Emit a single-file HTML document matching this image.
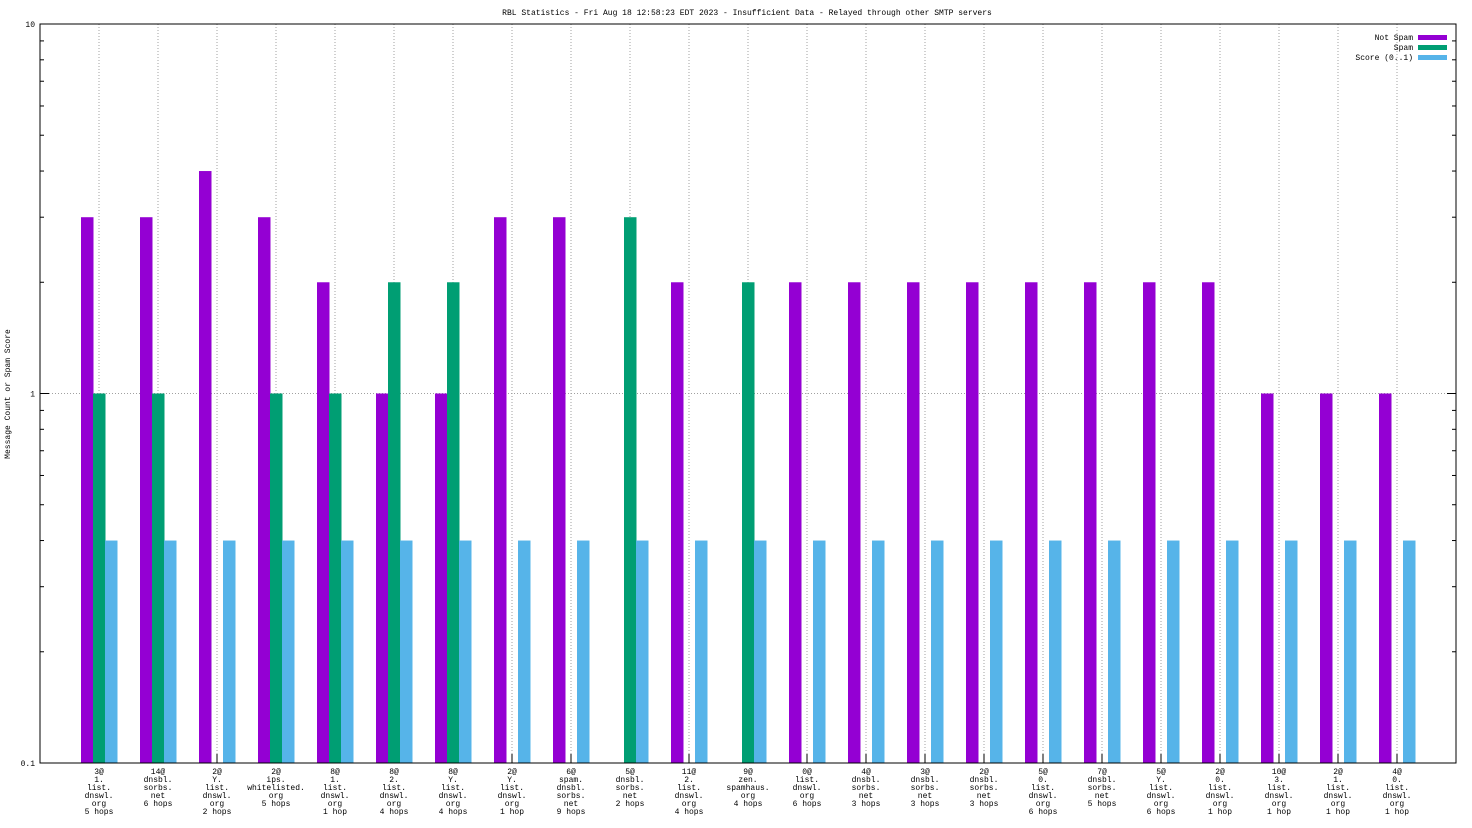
<!DOCTYPE html>
<html><head><meta charset="utf-8"><style>
html,body{margin:0;padding:0;background:#fff;}
svg{display:block;font-family:"Liberation Mono",monospace;}
</style></head><body>
<svg id="c" width="1472" height="828" viewBox="0 0 1472 828">
<rect x="0" y="0" width="1472" height="828" fill="#fff"/>
<text x="747" y="15" font-size="8" text-anchor="middle">RBL Statistics - Fri Aug 18 12:58:23 EDT 2023 - Insufficient Data - Relayed through other SMTP servers</text>
<text transform="translate(10,394) rotate(-90)" font-size="8" text-anchor="middle">Message Count or Spam Score</text>
<g id="grid"></g>
<g id="bars"></g>
<g id="xlabels"></g>
<rect x="40" y="24" width="1416" height="739" fill="none" stroke="#000" stroke-width="1"/>
<g>
<g><text x="1413" y="40" font-size="8" text-anchor="end">Not Spam</text><rect x="1418" y="35" width="29" height="5" fill="#9400d3"/></g>
<g><text x="1413" y="50" font-size="8" text-anchor="end">Spam</text><rect x="1418" y="45" width="29" height="5" fill="#009e73"/></g>
<g><text x="1413" y="60" font-size="8" text-anchor="end">Score (0..1)</text><rect x="1418" y="55" width="29" height="5" fill="#56b4e9"/></g>
</g>
</svg>
<script>
const categories=[
["3@","1.","list.","dnswl.","org","5 hops"],["14@","dnsbl.","sorbs.","net","6 hops"],["2@","Y.","list.","dnswl.","org","2 hops"],["2@","ips.","whitelisted.","org","5 hops"],["8@","1.","list.","dnswl.","org","1 hop"],["8@","2.","list.","dnswl.","org","4 hops"],["8@","Y.","list.","dnswl.","org","4 hops"],["2@","Y.","list.","dnswl.","org","1 hop"],["6@","spam.","dnsbl.","sorbs.","net","9 hops"],["5@","dnsbl.","sorbs.","net","2 hops"],["11@","2.","list.","dnswl.","org","4 hops"],["9@","zen.","spamhaus.","org","4 hops"],["0@","list.","dnswl.","org","6 hops"],["4@","dnsbl.","sorbs.","net","3 hops"],["3@","dnsbl.","sorbs.","net","3 hops"],["2@","dnsbl.","sorbs.","net","3 hops"],["5@","0.","list.","dnswl.","org","6 hops"],["7@","dnsbl.","sorbs.","net","5 hops"],["5@","Y.","list.","dnswl.","org","6 hops"],["2@","0.","list.","dnswl.","org","1 hop"],["10@","3.","list.","dnswl.","org","1 hop"],["2@","1.","list.","dnswl.","org","1 hop"],["4@","0.","list.","dnswl.","org","1 hop"]];
const notSpam=[3,3,4,3,2,1,1,3,3,0,2,0,2,2,2,2,2,2,2,2,1,1,1];
const spam=[1,1,0,1,1,2,2,0,0,3,0,2,0,0,0,0,0,0,0,0,0,0,0];
const score=[0.4,0.4,0.4,0.4,0.4,0.4,0.4,0.4,0.4,0.4,0.4,0.4,0.4,0.4,0.4,0.4,0.4,0.4,0.4,0.4,0.4,0.4,0.4];
const yTicks=["10","1","0.1"];
const NS="http://www.w3.org/2000/svg";
const X0=40,X1=1456,Y0=24,Y1=763;
function y(v){return Y0+(1-Math.log10(v))*(Y1-Y0)/2;}
function xc(i){return 99+i*(1397-99)/22;}
function mk(tag,attrs,parent){const e=document.createElementNS(NS,tag);for(const k in attrs)e.setAttribute(k,attrs[k]);parent.appendChild(e);return e;}
const grid=document.getElementById('grid'),bars=document.getElementById('bars'),xl=document.getElementById('xlabels');
yTicks.forEach(t=>{const v=parseFloat(t);const yy=y(v);
 const l=mk('line',{x1:X0,x2:X1,y1:yy,y2:yy,stroke:'#a0a0a0','stroke-dasharray':'1,2'},grid);
 
 
 const tx=mk('text',{x:X0-5,y:yy+3,'font-size':8,'text-anchor':'end'},grid);tx.textContent=t;
 
 
 mk('line',{x1:X0,x2:X0+9,y1:yy,y2:yy,stroke:'#000'},grid);mk('line',{x1:X1,x2:X1-9,y1:yy,y2:yy,stroke:'#000'},grid);
});
[0.1,1].forEach(b=>{for(let m=2;m<10;m++){const yy=y(b*m);mk('line',{x1:X0,x2:X0+4,y1:yy,y2:yy,stroke:'#000'},grid);mk('line',{x1:X1,x2:X1-4,y1:yy,y2:yy,stroke:'#000'},grid);}});
const series=[[notSpam,'#9400d3',-18,'not-spam'],[spam,'#009e73',-6,'spam'],[score,'#56b4e9',6,'score']];
categories.forEach((c,i)=>{const cx=xc(i);
 const g=mk('line',{x1:cx,x2:cx,y1:Y0,y2:Y1,stroke:'#a0a0a0','stroke-dasharray':'1,2'},grid);
 
 
 mk('line',{x1:cx,x2:cx,y1:Y1,y2:Y1-9,stroke:'#000'},grid);
 series.forEach(s=>{const v=s[0][i];if(v>0){const top=y(v);
  const r=mk('rect',{x:cx+s[2],y:top,width:12.5,height:Y1-top,fill:s[1]},bars);
  
  }});
 const t=mk('text',{'font-size':8,'text-anchor':'middle'},xl);
 
 
 c.forEach((line,j)=>{const ts=mk('tspan',{x:cx,y:774+j*8},t);ts.textContent=line;});
});
</script>
</body></html>
